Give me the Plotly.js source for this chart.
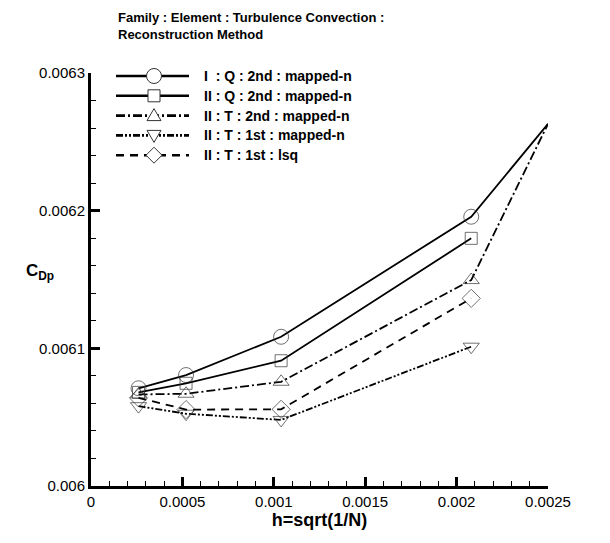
<!DOCTYPE html>
<html>
<head>
<meta charset="utf-8">
<script src="https://cdn.plot.ly/plotly-3.0.1.min.js"></script>
<style>html,body{margin:0;padding:0;background:#fff;}#chart{width:610px;height:543px;}</style>
</head>
<body>
<div id="chart"></div>
<script>
// ---- data ----
const hValues = [0.00026, 0.00052, 0.00104, 0.00208, 0.0025];
const seriesNames = [
  "I  : Q : 2nd : mapped-n",
  "II : Q : 2nd : mapped-n",
  "II : T : 2nd : mapped-n",
  "II : T : 1st : mapped-n",
  "II : T : 1st : lsq"
];
const cdpIQ2nd   = [0.006071, 0.0060806, 0.0061084, 0.0061956, 0.006263];
const cdpIIQ2nd  = [0.006068, 0.0060746, 0.006091, 0.0061799];
const cdpIIT2nd  = [0.0060665, 0.006067, 0.0060757, 0.0061496, 0.006263];
const cdpIIT1st  = [0.006058, 0.0060525, 0.006048, 0.0061012];
const cdpIIT1lsq = [0.006064, 0.0060555, 0.0060557, 0.0061363];
const xTickVals = [0, 0.0005, 0.001, 0.0015, 0.002, 0.0025];
const xTickText = ["0", "0.0005", "0.001", "0.0015", "0.002", "0.0025"];
const yTickVals = [0.006, 0.0061, 0.0062, 0.0063];
const yTickText = ["0.006", "0.0061", "0.0062", "0.0063"];
const legendTitleLines = ["Family : Element : Turbulence Convection :", "Reconstruction Method"];

// ---- styling ----
const FONT = "Liberation Sans, Arial, Helvetica, sans-serif";
const W = 610, H = 543;
const M = {l: 91, r: 62, t: 73, b: 57};
const PW = W - M.l - M.r, PH = H - M.t - M.b;
const px2x = px => (px - M.l) / PW;
const px2y = py => (H - M.b - py) / PH;

const seriesY = [cdpIQ2nd, cdpIIQ2nd, cdpIIT2nd, cdpIIT1st, cdpIIT1lsq];
const symbols = ["circle-open", "square-open", "triangle-up-open", "triangle-down-open", "diamond-open"];
const dashes = ["solid", "solid", "9px,3px,2px,3px", "7px,2px,2px,2px,2px,2px", "8px,6px"];
const msizes = [15, 12, 14, 14, 14];

const traces = seriesY.map((ys, i) => {
  const xs = hValues.slice(0, ys.length);
  const sizes = xs.map((x, j) => (j === 4 ? 0 : msizes[i]));
  return {
    type: "scatter",
    mode: "lines+markers",
    name: seriesNames[i],
    x: xs,
    y: ys,
    showlegend: false,
    line: {color: "#000", width: 1.8, dash: dashes[i]},
    marker: {symbol: symbols[i], size: sizes, color: "#333", line: {color: "#333", width: 1}},
    cliponaxis: false
  };
});

// ---- legend key drawn as paper-space shapes + annotations ----
const legRow0 = 76, legGap = 19.8, legX0 = 116, legX1 = 189, legMX = 154, legTX = 202;
const shapes = [];
const annotations = [];
function markerPath(kind, cx, cy) {
  const pts = {
    "triangle-up-open": [[0, -7], [-7, 5], [7, 5]],
    "triangle-down-open": [[0, 7], [-7, -5], [7, -5]],
    "diamond-open": [[0, -8], [8, 0], [0, 8], [-8, 0]]
  }[kind];
  return "M" + pts.map(p => px2x(cx + p[0]) + "," + px2y(cy + p[1])).join("L") + "Z";
}
seriesNames.forEach((name, i) => {
  const cy = legRow0 + legGap * i;
  shapes.push({
    type: "line", xref: "paper", yref: "paper",
    x0: px2x(legX0), x1: px2x(legX1), y0: px2y(cy), y1: px2y(cy),
    line: {color: "#000", width: 2.6, dash: dashes[i]}
  });
  const mk = {xref: "paper", yref: "paper", fillcolor: "#fff", line: {color: "#333", width: 1}};
  if (symbols[i] === "circle-open") {
    shapes.push(Object.assign({type: "circle", x0: px2x(legMX - 7.5), x1: px2x(legMX + 7.5), y0: px2y(cy + 7.5), y1: px2y(cy - 7.5)}, mk));
  } else if (symbols[i] === "square-open") {
    shapes.push(Object.assign({type: "rect", x0: px2x(legMX - 6), x1: px2x(legMX + 6), y0: px2y(cy + 6), y1: px2y(cy - 6)}, mk));
  } else {
    shapes.push(Object.assign({type: "path", path: markerPath(symbols[i], legMX, cy)}, mk));
  }
  annotations.push({
    text: "<b>" + name + "</b>", xref: "paper", yref: "paper",
    x: px2x(legTX), y: px2y(cy), xanchor: "left", yanchor: "middle",
    showarrow: false, font: {family: FONT, size: 14, color: "#000"}
  });
});
legendTitleLines.forEach((t, k) => {
  annotations.push({
    text: "<b>" + t + "</b>", xref: "paper", yref: "paper",
    x: px2x(116), y: px2y(18 + 17 * k), xanchor: "left", yanchor: "middle",
    showarrow: false, font: {family: FONT, size: 13, color: "#000"}
  });
});
annotations.push({
  text: "<b>C<sub>Dp</sub></b>", xref: "paper", yref: "paper",
  x: px2x(40), y: px2y(272), xanchor: "center", yanchor: "middle",
  showarrow: false, font: {family: FONT, size: 17, color: "#000"}
});

const layout = {
  width: W,
  height: H,
  margin: M,
  paper_bgcolor: "#fff",
  plot_bgcolor: "#fff",
  font: {family: FONT, color: "#000", size: 15},
  showlegend: false,
  xaxis: {
    range: [0, 0.0025],
    tickvals: xTickVals, ticktext: xTickText,
    ticks: "inside", ticklen: 9, tickwidth: 3, tickcolor: "#000",
    showline: true, linewidth: 3, linecolor: "#000", mirror: false,
    showgrid: false, zeroline: false,
    tickfont: {family: FONT, size: 15, color: "#000"},
    minor: {dtick: 0.0001, ticks: "inside", ticklen: 5, tickwidth: 1, tickcolor: "#000", showgrid: false},
    title: {text: "h=sqrt(1/N)", font: {family: FONT, size: 18, color: "#000", weight: "bold"}, standoff: 4}
  },
  yaxis: {
    range: [0.006, 0.0063],
    tickvals: yTickVals, ticktext: yTickText,
    ticks: "inside", ticklen: 9, tickwidth: 3, tickcolor: "#000",
    showline: true, linewidth: 3, linecolor: "#000", mirror: false,
    showgrid: false, zeroline: false,
    tickfont: {family: FONT, size: 15, color: "#000"},
    minor: {dtick: 0.00002, ticks: "inside", ticklen: 5, tickwidth: 1, tickcolor: "#000", showgrid: false}
  },
  shapes: shapes,
  annotations: annotations
};

Plotly.newPlot("chart", traces, layout, {displayModeBar: false, staticPlot: true});
</script>
</body>
</html>
